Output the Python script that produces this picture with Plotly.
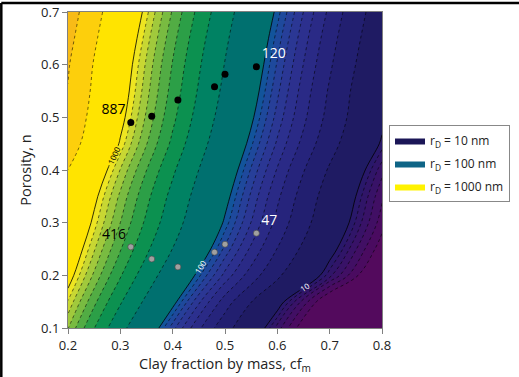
import numpy as np
import plotly.graph_objects as go

# ---------------- data ----------------
cf_grid = [0.2, 0.3, 0.4, 0.5, 0.6, 0.7, 0.8]
n_grid = [0.10, 0.15, 0.20, 0.25, 0.30, 0.35, 0.40, 0.45, 0.50, 0.55, 0.60, 0.65, 0.70]
# log10 of r_D (nm) at each (n, cf) node
log_rD = [
    [2.849, 2.361, 1.871, 1.376, 0.881, 0.386, -0.109],
    [2.950, 2.493, 2.037, 1.551, 1.063, 0.576, 0.088],
    [3.048, 2.613, 2.178, 1.755, 1.340, 0.925, 0.510],
    [3.114, 2.706, 2.298, 1.888, 1.473, 1.058, 0.643],
    [3.175, 2.778, 2.381, 1.983, 1.568, 1.154, 0.739],
    [3.225, 2.830, 2.435, 2.040, 1.625, 1.208, 0.792],
    [3.300, 2.900, 2.500, 2.100, 1.691, 1.280, 0.868],
    [3.399, 2.988, 2.576, 2.165, 1.765, 1.373, 0.980],
    [3.445, 3.037, 2.629, 2.220, 1.820, 1.430, 1.039],
    [3.472, 3.069, 2.665, 2.262, 1.860, 1.460, 1.060],
    [3.490, 3.092, 2.693, 2.295, 1.896, 1.498, 1.100],
    [3.526, 3.127, 2.729, 2.331, 1.933, 1.536, 1.139],
    [3.563, 3.167, 2.770, 2.373, 1.976, 1.578, 1.179],
]

levels_nm = [5, 6, 7, 8, 9,
             10, 20, 30, 40, 50, 60, 70, 80, 90,
             100, 200, 300, 400, 500, 600, 700, 800, 900,
             1000, 2000, 3000]
decades_nm = [10, 100, 1000]

pts_cf = [0.32, 0.36, 0.41, 0.48, 0.50, 0.56]
n_black = [0.490, 0.502, 0.533, 0.558, 0.582, 0.596]
n_gray = [0.254, 0.231, 0.216, 0.244, 0.259, 0.280]
black_labels = ["887", "", "", "", "", "120"]
gray_labels = ["416", "", "", "", "", "47"]

legend_names = ["r<sub>D</sub> = 10 nm", "r<sub>D</sub> = 100 nm", "r<sub>D</sub> = 1000 nm"]

# ---------------- styles ----------------
base_color = "#530a5d"
band_colors = [
    "#4a0b60", "#410f64", "#381267", "#301568", "#29186a",
    "#1f1b63", "#221f70", "#26247c", "#2a2a86", "#2c308e", "#2b3794", "#273f99", "#1e499c", "#12549b",
    "#00706f", "#008263", "#0c9150", "#2c9f47", "#52ac44", "#79bb41", "#a1c93c", "#c8d733", "#eee521",
    "#ffe400", "#fdcf0c", "#f8bb17",
]
legend_colors = ["#1b1657", "#0e6486", "#fff200"]
decade_label_colors = {10: "white", 100: "white", 1000: "black"}
FONT = "Open Sans"

W, H = 519, 377
ML, MR, MT, MB = 68, 137, 12, 49
PW, PH = W - ML - MR, H - MT - MB

fig = go.Figure()

z = np.array(log_rD)

# filled bands: constraint contours shade the region where z >= level
for L, col in zip(levels_nm, band_colors):
    is_dec = L in decades_nm
    fig.add_trace(go.Contour(
        x=cf_grid, y=n_grid, z=z,
        contours=dict(type="constraint", operation="<", value=float(np.log10(L)),
                      showlines=not is_dec),
        fillcolor=col,
        line=dict(color="rgba(0,0,0,0.7)", width=0.8, dash="dot"),
        showscale=False, hoverinfo="skip", showlegend=False,
    ))

# solid decade lines with labels
for d in decades_nm:
    k = np.log10(d)
    fig.add_trace(go.Contour(
        x=cf_grid, y=n_grid, z=z + (d - k),
        autocontour=False,
        contours=dict(coloring="none", start=d, end=d + 0.5, size=1,
                      showlabels=True, labelformat="d",
                      labelfont=dict(family=FONT, size=8, color=decade_label_colors[d])),
        line=dict(color="black", width=0.8),
        showscale=False, hoverinfo="skip", showlegend=False,
    ))

# data points
fig.add_trace(go.Scatter(
    x=pts_cf, y=n_black, mode="markers+text",
    marker=dict(color="black", size=7),
    text=black_labels,
    textposition=["top left", "top left", "top left", "top right", "top right", "top right"],
    textfont=dict(family=FONT, size=14, color=["black"] * 5 + ["white"]),
    showlegend=False, hoverinfo="skip",
))
fig.add_trace(go.Scatter(
    x=pts_cf, y=n_gray, mode="markers+text",
    marker=dict(color="#a0a0a0", size=6, line=dict(color="#444", width=0.6)),
    text=gray_labels,
    textposition=["top left", "top left", "top left", "top right", "top right", "top right"],
    textfont=dict(family=FONT, size=14, color=["black"] * 5 + ["white"]),
    showlegend=False, hoverinfo="skip",
))

# legend entries
for i, (name, col) in enumerate(zip(legend_names, legend_colors)):
    fig.add_trace(go.Scatter(
        x=[None], y=[None], mode="lines", fill="toself",
        fillcolor=col, line=dict(width=0, color=col), name=name,
        legendgroup="g%d" % i,
    ))

axis_common = dict(
    showgrid=False, zeroline=False, showline=True, mirror=True,
    linecolor="#808080", linewidth=1, ticks="outside", ticklen=5,
    tickcolor="#808080", tickfont=dict(family=FONT, size=13, color="#222"),
    dtick=0.1, tickformat=".1f", automargin=False,
)

fig.update_layout(
    width=W, height=H,
    margin=dict(l=ML, r=MR, t=MT, b=MB, autoexpand=False),
    paper_bgcolor="white", plot_bgcolor=base_color,
    font=dict(family=FONT, color="#222"),
    xaxis=dict(range=[0.2, 0.8], title=dict(text="Clay fraction by mass, cf<sub>m</sub>",
                                            font=dict(family=FONT, size=14.5), standoff=6),
               **axis_common),
    yaxis=dict(range=[0.1, 0.7], title=dict(text="Porosity, n",
                                            font=dict(family=FONT, size=14.5), standoff=6),
               **axis_common),
    legend=dict(x=(389 - ML) / PW, y=1 - (125 - MT) / PH, xanchor="left", yanchor="top",
                bgcolor="white", bordercolor="#888", borderwidth=1,
                tracegroupgap=4, traceorder="grouped",
                font=dict(family=FONT, size=12, color="#222")),
    shapes=[
        dict(type="line", xref="paper", yref="paper",
             x0=(1.3 - ML) / PW, x1=(W - ML) / PW,
             y0=1 + (MT - 3) / PH, y1=1 + (MT - 3) / PH,
             line=dict(color="black", width=2.5)),
        dict(type="line", xref="paper", yref="paper",
             x0=(1.3 - ML) / PW, x1=(1.3 - ML) / PW,
             y0=1 + (MT - 3) / PH, y1=-MB / PH,
             line=dict(color="black", width=2.5)),
    ],
)

fig.write_html(
    "out.html",
    config={"displayModeBar": False, "responsive": False},
    post_script="document.body.style.margin='0px';document.body.style.padding='0px';"
                "document.documentElement.style.overflow='hidden';",
)
